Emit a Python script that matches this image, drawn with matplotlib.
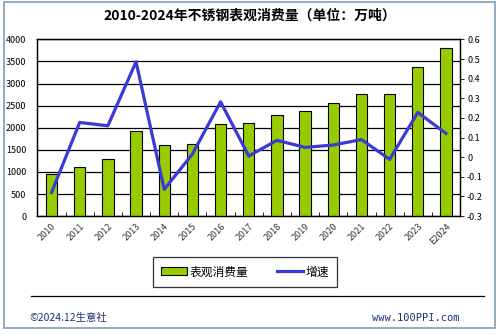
import numpy as np
import matplotlib
matplotlib.use("Agg")
import matplotlib.pyplot as plt
from matplotlib.patches import Rectangle
from matplotlib.lines import Line2D

plt.rcParams['font.family'] = ['Noto Sans CJK SC', 'DejaVu Sans']

# 数据
years = ['2010', '2011', '2012', '2013', '2014', '2015', '2016', '2017',
         '2018', '2019', '2020', '2021', '2022', '2023', 'E2024']
consumption = [945, 1110, 1285, 1920, 1600, 1630, 2075, 2100,
               2280, 2390, 2550, 2775, 2755, 3365, 3795]
growth = [-0.18, 0.177, 0.16, 0.486, -0.164, 0.016, 0.282, 0.006,
          0.086, 0.05, 0.062, 0.09, -0.011, 0.228, 0.121]
left_ticks = [0, 500, 1000, 1500, 2000, 2500, 3000, 3500, 4000]
right_ticks = [-0.3, -0.2, -0.1, 0, 0.1, 0.2, 0.3, 0.4, 0.5, 0.6]

bar_color = '#99cc00'
line_color = '#3a3ad6'

fig = plt.figure(figsize=(4.99, 3.34), dpi=100)
fig.patch.set_facecolor('white')

# 外边框
fig.patches.append(Rectangle((4 / 499, 1 - 328 / 334), 491 / 499, 326 / 334,
                             transform=fig.transFigure, fill=False,
                             edgecolor='#7f9db9', linewidth=1.2))

ax = fig.add_axes([0.075, 0.353, 0.847, 0.529])
x = np.arange(len(years))
ax.bar(x, consumption, width=0.4, color=bar_color, edgecolor='black',
       linewidth=0.8, zorder=3)
ax.set_xlim(-0.5, len(years) - 0.5)
ax.set_ylim(0, 4000)
ax.set_yticks(left_ticks)
ax.set_yticklabels([str(v) for v in left_ticks], fontsize=6.5)
ax.tick_params(axis='y', length=0, pad=8)
ax.grid(axis='y', color='black', linewidth=0.9, zorder=0)
ax.set_xticks(x)
ax.set_xticklabels(years, rotation=45, fontsize=6.5, color='#333333',
                   ha='right', rotation_mode='anchor')
ax.tick_params(axis='x', length=0, pad=4)
# 类别分隔刻度
ax.set_xticks(np.arange(-0.5, len(years), 1), minor=True)
ax.tick_params(axis='x', which='minor', direction='in', length=3)
for s in ax.spines.values():
    s.set_linewidth(0.9)

ax2 = ax.twinx()
ax2.plot(x, growth, color=line_color, linewidth=2.3, zorder=5)
ax2.set_ylim(-0.3, 0.6)
ax2.set_yticks(right_ticks)
ax2.set_yticklabels(['0' if v == 0 else '%.1f' % v for v in right_ticks],
                    fontsize=6.5)
ax2.tick_params(axis='y', length=3, width=0.6, colors='black', pad=2)
for s in ax2.spines.values():
    s.set_linewidth(0.9)

fig.text(0.5, 1 - 16 / 334, '2010-2024年不锈钢表观消费量（单位：万吨）',
         ha='center', va='center', fontsize=10, fontweight='bold')

handles = [Rectangle((0, 0), 1, 1, facecolor=bar_color, edgecolor='black',
                     linewidth=0.8),
           Line2D([0], [0], color=line_color, linewidth=2.3)]
leg = fig.legend(handles, ['表观消费量', '增速'], loc='center',
                 bbox_to_anchor=(0.491, 0.186), ncol=2, fontsize=8.5,
                 frameon=True, fancybox=False, edgecolor='black',
                 handlelength=2.2, handleheight=0.6, columnspacing=2.5,
                 handletextpad=0.2, borderpad=0.7)
leg.get_frame().set_linewidth(0.9)

fig.add_artist(Line2D([31 / 499, 484 / 499], [1 - 296 / 334, 1 - 296 / 334],
                      color='black', linewidth=0.9, transform=fig.transFigure))

fig.text(29 / 499, 1 - 318 / 334, '©2024.12生意社', ha='left', va='center',
         fontsize=7.5, color='#1f2f7a')
fig.text(459 / 499, 1 - 318 / 334, 'www.100PPI.com', ha='right', va='center',
         fontsize=7.5, color='#1f2f7a', family='DejaVu Sans Mono')

fig.savefig('out.png', dpi=100)
